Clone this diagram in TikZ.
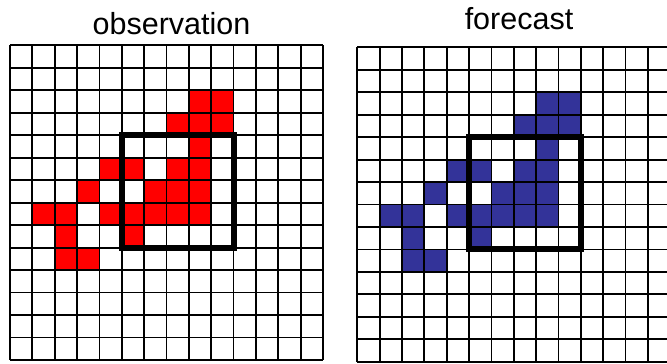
\documentclass[tikz,border=0pt]{standalone}
\usepackage{fontspec}
\setmainfont{Liberation Sans}
\definecolor{obsred}{RGB}{255,0,0}
\definecolor{fcblue}{RGB}{51,51,153}
\tikzset{
  gridline/.style={line width=1.8pt, black},
  windowbox/.style={line width=6pt, black, line join=miter},
  title/.style={anchor=base, inner sep=0pt, font=\fontsize{30.5}{36}\selectfont}
}
\newcommand{\cellset}{2/8,2/9,3/7,3/8,3/9,4/8,5/4,5/5,5/7,5/8,6/3,6/6,6/7,6/8,7/1,7/2,7/4,7/5,7/6,7/7,7/8,8/2,8/5,9/2,9/3}
\begin{document}
\begin{tikzpicture}[x=1pt,y=-1pt]
\useasboundingbox[fill=white] (0,0) rectangle (667,364);
\node[title] (obstitle) at (171.5,34.5) {observation};
\node[title] (fctitle) at (519,29) {forecast};
% observation grid
\begin{scope}[shift={(10pt,-45.3pt)}, x=22.357pt, y=-22.48pt]
  \foreach \r/\c in \cellset { \fill[obsred] (\c,\r) rectangle ++(1,1); }
  \foreach \i in {0,...,14} {
    \draw[gridline] (\i,0) -- (\i,14);
    \draw[gridline] (0,\i) -- (14,\i);
  }
  \draw[windowbox] (5,4) rectangle (10,9);
\end{scope}
% forecast grid
\begin{scope}
\clip (0,0) rectangle (667,364);
\begin{scope}[shift={(357.3pt,-47.3pt)}, x=22.35pt, y=-22.46pt]
  \foreach \r/\c in \cellset { \fill[fcblue] (\c,\r) rectangle ++(1,1); }
  \foreach \i in {0,...,14} {
    \draw[gridline] (\i,0) -- (\i,14);
    \draw[gridline] (0,\i) -- (14,\i);
  }
  \draw[windowbox] (5,4) rectangle (10,9);
\end{scope}
\end{scope}
\end{tikzpicture}
\end{document}
